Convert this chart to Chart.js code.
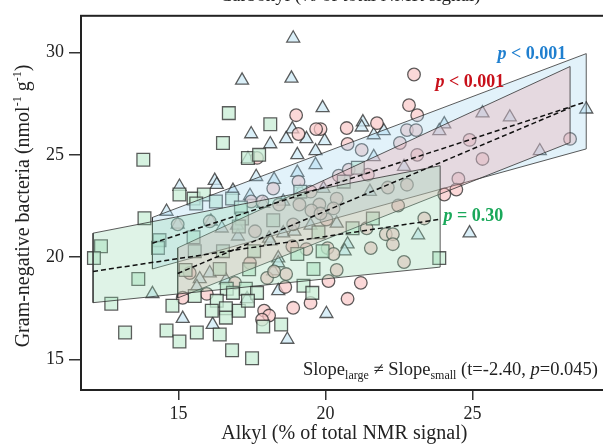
<!DOCTYPE html>
<html>
<head>
<meta charset="utf-8">
<script src="https://cdn.jsdelivr.net/npm/chart.js@4.4.1/dist/chart.umd.min.js"></script>
<style>
  html, body { margin: 0; padding: 0; background: #fff; overflow: hidden; }
  #wrap { width: 618px; height: 446px; }
</style>
</head>
<body>
<div id="wrap"><canvas id="c" width="618" height="446"></canvas></div>
<script>
// axis ticks
const xTicks = [15, 20, 25];
const yTicks = [15, 20, 25, 30];

// triangles (blue group)
const triX = [18.9, 17.16, 18.84, 19.9, 17.47, 18.12, 18.87, 18.66, 19.35, 19.97, 19.66, 19.04, 17.36, 19.66, 19.04, 17.64, 18.25, 16.23, 16.3, 15.03, 16.85, 19.93, 17.43, 14.59, 17.88, 18.56, 19.14, 21.27, 21.23, 21.64, 21.98, 21.64, 22.67, 21.51, 16.99, 18.08, 18.56, 18.94, 19.49, 20.38, 20.75, 20.65, 23.15, 18.39, 24.04, 23.87, 25.34, 26.27, 28.87, 27.29, 24.9, 20.03, 14.11, 15.14, 16.16, 18.7, 16.06, 15.72, 15.62, 16.61, 17.33, 17.02, 16.47, 14.97, 18.22, 18.39, 18.39, 18.12, 16.1];
const triY = [30.7, 28.64, 28.74, 27.3, 26.02, 25.53, 26.26, 25.78, 25.78, 25.68, 25.19, 25.0, 24.8, 24.51, 24.13, 23.93, 23.79, 23.74, 23.54, 23.45, 23.25, 23.35, 23.0, 22.23, 22.62, 22.72, 23.2, 26.6, 26.35, 25.97, 26.17, 24.9, 24.42, 23.2, 21.55, 20.92, 21.17, 21.26, 21.55, 21.65, 20.63, 20.29, 21.07, 19.95, 26.5, 26.17, 27.04, 26.84, 27.23, 25.19, 21.17, 17.23, 18.2, 16.99, 16.7, 15.97, 19.22, 18.93, 18.54, 18.88, 17.96, 21.02, 21.41, 21.6, 19.32, 19.71, 18.35, 20.78, 21.75];

// circles (red group)
const circX = [22.84, 23.12, 19.0, 20.72, 21.75, 19.83, 19.68, 22.77, 23.08, 19.08, 20.75, 21.23, 22.53, 23.12, 17.67, 20.45, 20.79, 21.44, 18.22, 19.08, 20.38, 22.12, 22.77, 22.47, 23.36, 17.47, 18.42, 19.11, 19.79, 19.52, 20.03, 17.6, 21.4, 22.05, 22.29, 22.29, 21.54, 18.87, 19.35, 20.07, 20.27, 23.01, 24.9, 25.34, 28.32, 24.52, 24.45, 24.04, 22.67, 20.38, 21.2, 20.75, 16.92, 15.14, 15.38, 15.96, 17.43, 18.01, 18.66, 18.63, 17.91, 18.08, 17.84, 18.9, 19.49, 20.1, 18.9, 20.27, 19.49, 17.85, 16.06, 19.83, 14.97, 18.25];
const circY = [27.43, 26.94, 26.94, 26.31, 26.55, 26.26, 26.26, 26.21, 26.21, 26.02, 25.53, 25.24, 25.58, 25.0, 24.85, 23.98, 24.27, 24.03, 23.35, 23.69, 22.86, 23.4, 23.54, 22.52, 21.89, 22.72, 22.57, 22.57, 22.57, 22.28, 21.84, 21.26, 21.41, 21.12, 21.12, 20.63, 20.44, 20.53, 20.39, 20.44, 20.15, 28.93, 25.73, 24.8, 25.78, 23.83, 23.3, 23.06, 19.76, 19.37, 18.74, 17.96, 18.74, 18.01, 19.22, 18.2, 19.71, 18.98, 19.17, 18.54, 17.38, 17.14, 16.94, 17.52, 17.76, 18.83, 21.6, 22.38, 23.2, 22.72, 21.75, 22.13, 21.6, 19.3];

// squares (green group)
const sqX = [16.71, 18.12, 16.51, 13.8, 17.36, 17.74, 15.03, 15.51, 15.86, 15.6, 16.27, 16.82, 13.84, 12.36, 14.35, 14.3, 15.51, 17.12, 17.16, 18.22, 12.12, 13.63, 12.71, 13.18, 14.59, 15.03, 15.62, 16.4, 16.82, 17.5, 14.79, 15.55, 15.24, 16.4, 16.64, 16.85, 16.3, 16.13, 16.61, 16.61, 17.05, 17.29, 17.67, 17.36, 17.88, 18.49, 19.25, 19.55, 19.59, 17.4, 16.51, 17.57, 15.55, 17.05, 19.04, 19.9, 19.76, 21.1, 20.62, 19.14, 20.92, 21.61, 23.87];
const sqY = [27.04, 26.5, 25.58, 24.76, 24.85, 25.0, 23.06, 22.86, 23.06, 22.62, 22.72, 22.86, 21.9, 20.53, 20.83, 20.45, 20.97, 22.43, 21.89, 21.8, 19.95, 18.93, 17.72, 16.31, 16.41, 15.87, 16.31, 16.21, 15.44, 15.05, 17.62, 18.1, 19.37, 19.42, 18.45, 18.25, 17.86, 17.38, 17.5, 17.04, 17.38, 18.45, 18.25, 17.86, 16.6, 16.7, 18.6, 18.25, 19.42, 19.4, 20.29, 20.29, 20.29, 21.5, 20.15, 20.29, 21.21, 24.37, 23.69, 23.2, 21.41, 21.89, 19.95];

// regression fits with confidence limits at the ends of each range
const triFitX = [14.11, 28.87], triFitY = [20.68, 27.6], triLo = [19.42, 25.29], triHi = [21.94, 29.95];
const circFitX = [14.97, 28.32], circFitY = [19.2, 27.3], circLo = [18.0, 25.6], circHi = [20.45, 29.32];
const sqFitX = [12.09, 23.9], sqFitY = [19.3, 21.85], sqLo = [17.77, 19.51], sqHi = [21.17, 24.47];

const SERIF = '"Liberation Serif", "Times New Roman", serif';

const pts = (xs, ys) => xs.map((x, i) => ({ x, y: ys[i] }));
const band = (xs, lo, hi) => [
  { x: xs[0], y: lo[0] }, { x: xs[1], y: lo[1] },
  { x: xs[1], y: hi[1] }, { x: xs[0], y: hi[0] }, { x: xs[0], y: lo[0] }
];

function scatterSet(xs, ys, style, radius, fill) {
  return {
    type: 'scatter', data: pts(xs, ys), order: 3,
    pointStyle: style, pointRadius: radius, pointHoverRadius: radius,
    backgroundColor: fill, borderColor: 'rgba(40,40,40,0.75)', borderWidth: 1.3
  };
}
function bandSet(xs, lo, hi, fill) {
  return {
    type: 'line', data: band(xs, lo, hi), order: 2,
    fill: 'shape', backgroundColor: fill,
    borderColor: 'rgba(50,50,50,0.8)', borderWidth: 1, pointRadius: 0
  };
}
function fitSet(xs, ys) {
  return {
    type: 'line', data: pts(xs, ys), order: 1, fill: false,
    borderColor: '#111', borderWidth: 1.5, borderDash: [5, 3], pointRadius: 0
  };
}

// draw a run of [text, font, dy] pieces starting at x
function drawRuns(ctx, runs, x, y) {
  for (const [t, f, dy] of runs) {
    ctx.font = f;
    ctx.fillText(t, x, y + (dy || 0));
    x += ctx.measureText(t).width;
  }
}
function runsWidth(ctx, runs) {
  let w = 0;
  for (const [t, f] of runs) { ctx.font = f; w += ctx.measureText(t).width; }
  return w;
}

const decor = {
  id: 'decor',
  afterDraw(chart) {
    const { ctx, chartArea: a, scales: { x, y } } = chart;
    ctx.save();
    // frame
    ctx.strokeStyle = '#222';
    ctx.lineWidth = 2;
    ctx.strokeRect(a.left, a.top, a.right - a.left, a.bottom - a.top);

    ctx.textBaseline = 'alphabetic';
    ctx.textAlign = 'left';

    // axis title of the panel above, cut by the top edge
    ctx.fillStyle = '#222';
    ctx.font = '19px ' + SERIF;
    ctx.textAlign = 'center';
    ctx.fillText('Carbonyl (% of total NMR signal)', 350, 1);
    ctx.textAlign = 'left';

    // y axis title with superscripts
    const big = '20px ' + SERIF, sup = '12px ' + SERIF;
    const yRuns = [['Gram-negative bacteria (nmol', big], ['-1', sup, -8], [' g', big], ['-1', sup, -8], [')', big]];
    ctx.save();
    ctx.translate(29, 206);
    ctx.rotate(-Math.PI / 2);
    drawRuns(ctx, yRuns, -runsWidth(ctx, yRuns) / 2, 0);
    ctx.restore();

    // p-value labels
    const pLabel = (txt, color, vx, vy) => {
      ctx.fillStyle = color;
      drawRuns(ctx, [['p', 'italic bold 18px ' + SERIF], [txt, 'bold 18px ' + SERIF]],
        x.getPixelForValue(vx), y.getPixelForValue(vy));
    };
    pLabel(' < 0.001', '#1f7fcf', 25.85, 29.71);
    pLabel(' < 0.001', '#c8101a', 23.74, 28.3);
    pLabel(' = 0.30', '#1aa85a', 24.01, 21.75);

    // slope comparison note
    const n = '18.5px ' + SERIF, s = '12px ' + SERIF;
    const note = [['Slope', n], ['large', s, 4], [' \u2260 Slope', n], ['small', s, 4],
      [' (t=-2.40, ', n], ['p', 'italic 18.5px ' + SERIF], ['=0.045)', n]];
    ctx.fillStyle = '#222';
    drawRuns(ctx, note, 598 - runsWidth(ctx, note), 375);
    ctx.restore();
  }
};

new Chart(document.getElementById('c'), {
  type: 'scatter',
  data: {
    datasets: [
      scatterSet(sqX, sqY, 'rect', 9, 'rgba(200,238,214,0.75)'),
      scatterSet(circX, circY, 'circle', 6.3, 'rgba(250,200,200,0.7)'),
      scatterSet(triX, triY, 'triangle', 7.5, 'rgba(205,234,246,0.75)'),
      bandSet(sqFitX, sqLo, sqHi, 'rgba(150,215,175,0.3)'),
      bandSet(circFitX, circLo, circHi, 'rgba(235,160,165,0.3)'),
      bandSet(triFitX, triLo, triHi, 'rgba(165,215,240,0.32)'),
      fitSet(sqFitX, sqFitY),
      fitSet(circFitX, circFitY),
      fitSet(triFitX, triFitY)
    ]
  },
  options: {
    responsive: false,
    animation: false,
    layout: { padding: { left: 0, right: 3, top: 13, bottom: 0 } },
    plugins: { legend: { display: false }, tooltip: { enabled: false } },
    scales: {
      x: {
        type: 'linear', min: 11.68, max: 29.6,
        afterBuildTicks: s => { s.ticks = xTicks.map(v => ({ value: v })); },
        afterFit: s => { s.height = 56; },
        border: { display: false },
        grid: { drawOnChartArea: false, drawTicks: true, tickLength: 10, color: '#333', lineWidth: 1.5 },
        ticks: { font: { family: SERIF, size: 18 }, color: '#222', padding: 3, maxRotation: 0 },
        title: { display: true, text: 'Alkyl (% of total NMR signal)', font: { family: SERIF, size: 20 }, color: '#222', padding: { top: 0, bottom: 0 } }
      },
      y: {
        type: 'linear', min: 13.5, max: 31.8,
        afterBuildTicks: s => { s.ticks = yTicks.map(v => ({ value: v })); },
        afterFit: s => { s.width = 81; },
        border: { display: false },
        grid: { drawOnChartArea: false, drawTicks: true, tickLength: 12, color: '#333', lineWidth: 1.5 },
        ticks: { font: { family: SERIF, size: 18 }, color: '#222', padding: 5 }
      }
    }
  },
  plugins: [decor]
});
</script>
</body>
</html>
